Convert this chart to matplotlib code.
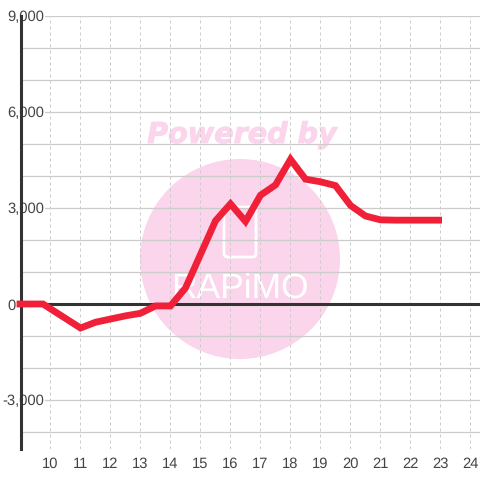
import matplotlib
matplotlib.use("Agg")
import matplotlib.pyplot as plt
import matplotlib.patheffects as pe
from matplotlib.patches import Circle, FancyBboxPatch
from matplotlib.ticker import FixedLocator, FuncFormatter
from matplotlib.transforms import ScaledTranslation

hours = [8.87, 9.75, 11, 11.5, 12, 12.5, 13, 13.5, 14, 14.5, 15, 15.5, 16, 16.5,
         17, 17.5, 18, 18.5, 19, 19.5, 20, 20.5, 21, 21.5, 22, 22.5, 23.05]
values = [0, 0, -750, -570, -470, -370, -290, -60, -60, 500, 1550, 2600, 3130, 2580,
          3400, 3720, 4520, 3900, 3820, 3700, 3080, 2750, 2630, 2620, 2620, 2620, 2620]
x_ticks = list(range(10, 25))
y_major = [-3000, 0, 3000, 6000, 9000]
y_minor = [-4000, -2000, -1000, 1000, 2000, 4000, 5000, 7000, 8000]

TEXT = "#444444"
plt.rcParams["font.family"] = ["Liberation Sans", "DejaVu Sans"]
plt.rcParams["text.hinting"] = "no_hinting"

fig = plt.figure(figsize=(4.8, 4.8), dpi=100, facecolor="white")
W = H = 480.0


def fx(px):
    return px / W


def fy(py):
    return 1 - py / H


# watermark, behind the transparent axes
fig.add_artist(Circle((fx(240), fy(259)), 100 / W, transform=fig.transFigure,
                      fc="#fbd5ec", ec="none", zorder=-5))
fig.text(fx(242), fy(135), "Powered by", color="#fbd5ec", fontsize=20.6,
         family="DejaVu Sans", weight="bold", style="italic",
         ha="center", va="center", zorder=-4,
         path_effects=[pe.withStroke(linewidth=0.7, foreground="#fbd5ec")])
fig.add_artist(FancyBboxPatch((fx(224), fy(257)), 32 / W, 50 / H,
                              boxstyle="round,pad=0,rounding_size=0.008",
                              transform=fig.transFigure, fc="none", ec="white",
                              lw=2, zorder=-4))
fig.text(fx(240), fy(289), "RAPiMO", color="white", fontsize=25.5,
         family="Liberation Sans",
         ha="center", va="center", zorder=-4)

left, right, top, bottom = 21.0, 480.0, 16.0, 449.0
ax = fig.add_axes([fx(left), fy(bottom), (right - left) / W, (bottom - top) / H])
ax.patch.set_alpha(0)
ax.set_xlim(10 + (left - 50.5) / 30, 10 + (right - 50.5) / 30)
ax.set_ylim((304 - bottom) * 31.25, (304 - top) * 31.25)

ax.xaxis.set_major_locator(FixedLocator(x_ticks))
ax.yaxis.set_major_locator(FixedLocator(y_major))
ax.yaxis.set_minor_locator(FixedLocator(y_minor))
ax.yaxis.set_major_formatter(FuncFormatter(lambda v, _: f"{int(v):,}"))

ax.grid(True, axis="y", which="both", color="#cccccc", lw=0.9)
ax.grid(True, axis="x", which="major", color="#cccccc", lw=0.72, ls=(0, (3, 3)))

for s in ["top", "right", "bottom"]:
    ax.spines[s].set_visible(False)
ax.spines["left"].set_color("#333333")
ax.spines["left"].set_linewidth(2.2)
ax.spines["left"].set_zorder(2)

ax.tick_params(axis="both", which="both", length=0)
ax.tick_params(axis="x", labelsize=10.6, labelcolor=TEXT, pad=5.5)
ax.tick_params(axis="y", labelsize=10.6, labelcolor=TEXT, pad=10)
fig.canvas.draw()
for val, tick in zip(y_major, ax.yaxis.get_major_ticks()):
    lab = tick.label1
    lab.set_ha("left")
    lab.set_bbox(dict(fc="white", ec="none", pad=0.7))
    if val < 0:
        lab.set_transform(lab.get_transform() + ScaledTranslation(-5 / 100, 0, fig.dpi_scale_trans))

ax.axhline(0, color="#333333", lw=2.2, zorder=2.2)
ax.plot(hours, values, color="#f02039", lw=4.9, solid_joinstyle="miter",
        solid_capstyle="butt", zorder=3, clip_on=False)

fig.savefig("out.png", dpi=100)
